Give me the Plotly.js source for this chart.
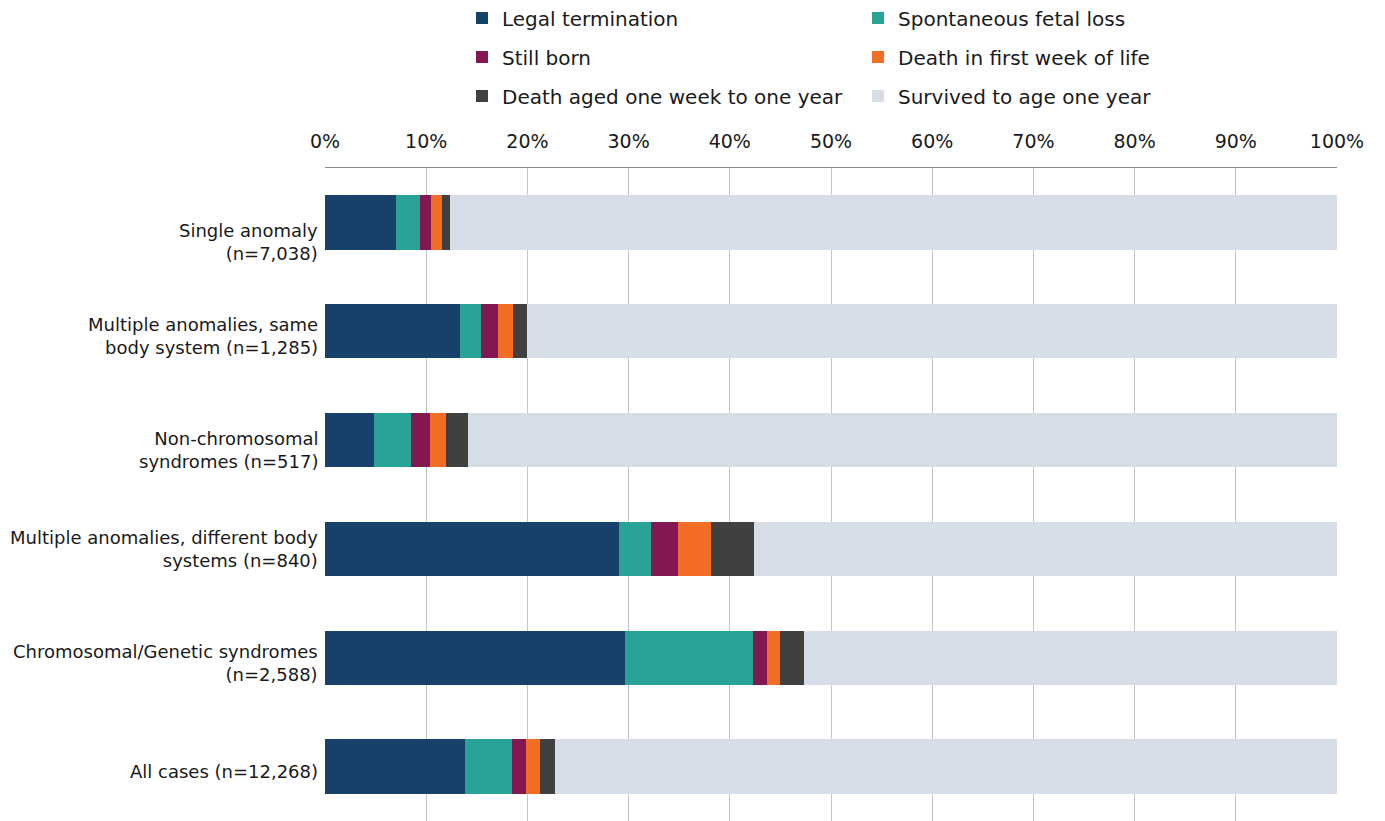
<!DOCTYPE html>
<html>
<head>
<meta charset="utf-8">
<script src="https://cdn.plot.ly/plotly-3.0.1.min.js"></script>
<style>
  html, body { margin: 0; padding: 0; background: #ffffff; }
  #chart { width: 1385px; height: 821px; }
</style>
</head>
<body>
<div id="chart"></div>
<script>
// Categories (top to bottom)
const categories = [
  "Single anomaly<br>(n=7,038)",
  "Multiple anomalies, same<br>body system (n=1,285)",
  "Non-chromosomal<br>syndromes (n=517)",
  "Multiple anomalies, different body<br>systems (n=840)",
  "Chromosomal/Genetic syndromes<br>(n=2,588)",
  "All cases (n=12,268)"
];

// Series values (% of cases)
const legalTermination   = [7.0, 13.3, 4.8, 29.1, 29.6, 13.8];
const spontaneousLoss    = [2.4, 2.1, 3.7, 3.1, 12.7, 4.7];
const stillBorn          = [1.1, 1.7, 1.9, 2.7, 1.4, 1.4];
const deathFirstWeek     = [1.1, 1.5, 1.6, 3.2, 1.3, 1.3];
const deathWeekToYear    = [0.8, 1.4, 2.1, 4.3, 2.3, 1.5];
const survivedOneYear    = [87.6, 80.0, 85.9, 57.6, 52.7, 77.3];

const seriesNames = [
  "Legal termination",
  "Spontaneous fetal loss",
  "Still born",
  "Death in first week of life",
  "Death aged one week to one year",
  "Survived to age one year"
];
const seriesValues = [legalTermination, spontaneousLoss, stillBorn, deathFirstWeek, deathWeekToYear, survivedOneYear];
const seriesColors = ["#15416B", "#29A298", "#821751", "#F46D25", "#404040", "#D6DDE6"];
const seriesLegends = ["legend", "legend", "legend2", "legend2", "legend3", "legend3"];

// Tick values for the percentage axis
const tickVals = [0, 10, 20, 30, 40, 50, 60, 70, 80, 90, 100];

// Vertical nudges (px) of the category labels, as placed in the original
const labelNudge = [20, 5, 10, 0, 5, 5];

const FONT = "DejaVu Sans, Verdana, sans-serif";

const traces = seriesNames.map((name, i) => ({
  type: "bar",
  orientation: "h",
  name: name,
  y: categories,
  x: seriesValues[i],
  marker: { color: seriesColors[i], line: { width: 0 } },
  legend: seriesLegends[i],
  hoverinfo: "name+x"
}));

function legendSpec(yPix) {
  return {
    orientation: "h",
    traceorder: "normal",
    xref: "container", yref: "container",
    x: 462 / 1385, xanchor: "left",
    y: 1 - yPix / 821, yanchor: "middle",
    entrywidth: 351, entrywidthmode: "pixels",
    font: { family: FONT, size: 20, color: "#1a1a1a" },
    bgcolor: "rgba(0,0,0,0)",
    itemclick: false, itemdoubleclick: false
  };
}

const annotations = categories.map((c, i) => ({
  xref: "paper", yref: "y",
  x: 0, y: c,
  xanchor: "right", yanchor: "middle",
  xshift: -5, yshift: -labelNudge[i],
  align: "right",
  text: c,
  showarrow: false,
  font: { family: FONT, size: 18, color: "#1a1a1a" }
}));

const layout = {
  width: 1385,
  height: 821,
  paper_bgcolor: "#ffffff",
  plot_bgcolor: "#ffffff",
  margin: { l: 325, r: 48, t: 168, b: 0, pad: 0 },
  barmode: "stack",
  bargap: 0.5,
  font: { family: FONT, color: "#1a1a1a" },
  showlegend: true,
  legend: legendSpec(18),
  legend2: legendSpec(57),
  legend3: legendSpec(96),
  annotations: annotations,
  xaxis: {
    side: "top",
    range: [0, 100],
    tickvals: tickVals,
    ticktext: tickVals.map(v => v + "%"),
    tickfont: { family: FONT, size: 19, color: "#1a1a1a" },
    showgrid: true,
    gridcolor: "#c4c4c4",
    gridwidth: 1,
    zeroline: false,
    showline: true,
    linecolor: "#8a8a8a",
    linewidth: 1.5,
    ticks: "",
    ticklabelstandoff: 11,
    fixedrange: true
  },
  yaxis: {
    autorange: "reversed",
    type: "category",
    showticklabels: false,
    showgrid: false,
    zeroline: false,
    showline: false,
    ticks: "",
    fixedrange: true
  }
};

Plotly.newPlot("chart", traces, layout, { displayModeBar: false, staticPlot: true });
</script>
</body>
</html>
